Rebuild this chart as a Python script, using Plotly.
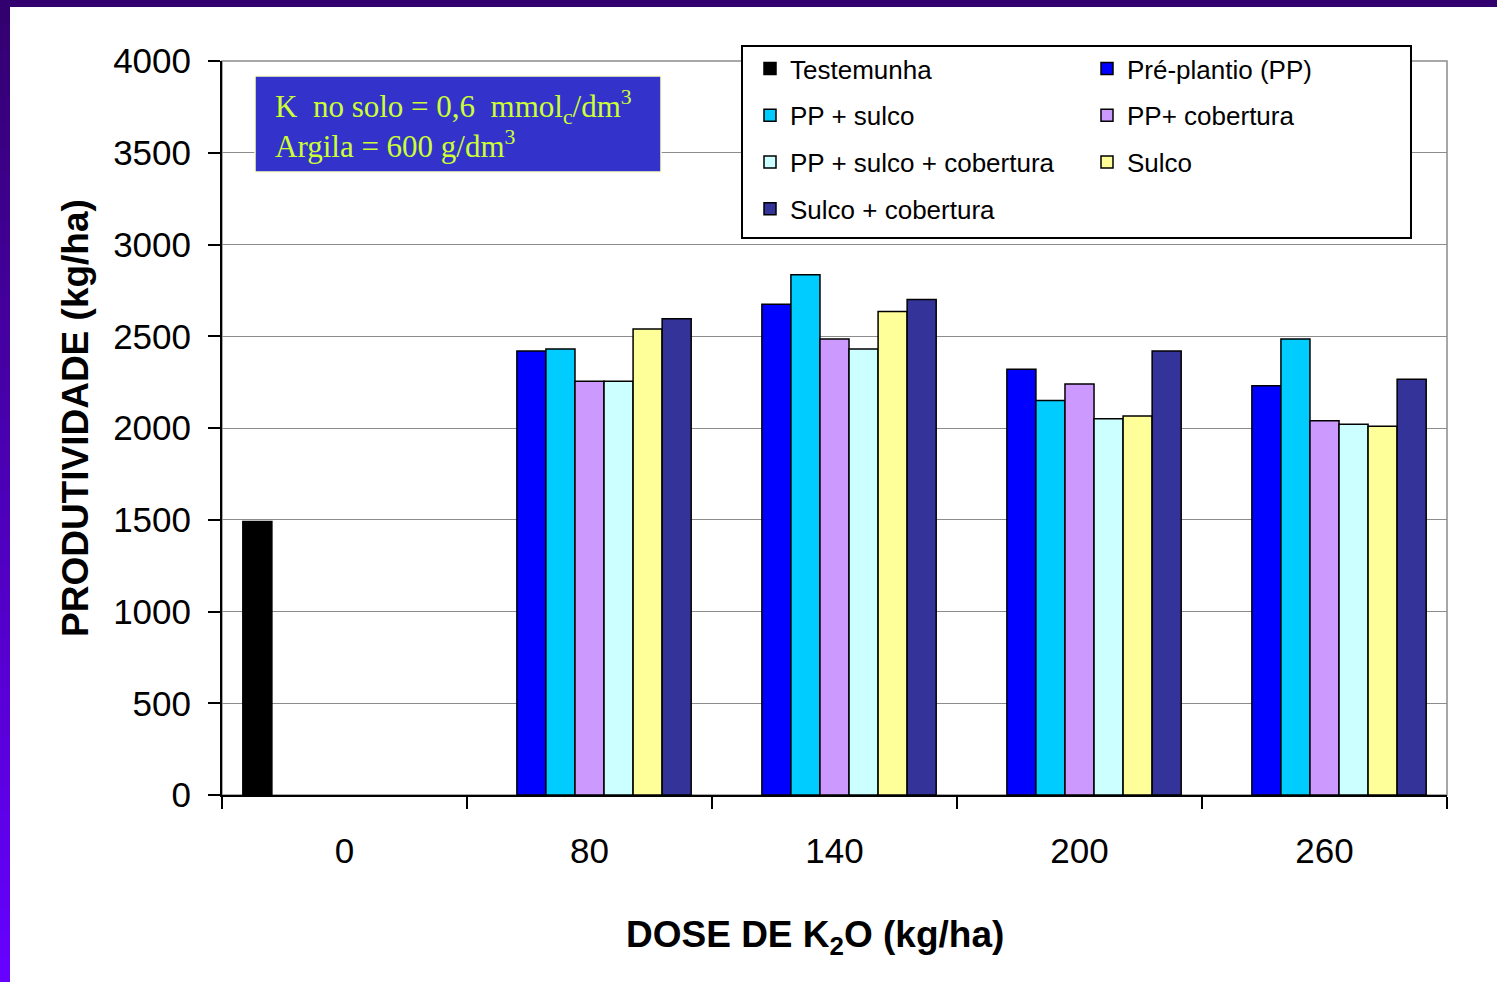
import plotly.graph_objects as go

# ---- data -------------------------------------------------------------
doses = ["0", "80", "140", "200", "260"]

testemunha = [1490, None, None, None, None]
pre_plantio = [None, 2420, 2675, 2320, 2230]
pp_sulco = [None, 2430, 2835, 2150, 2485]
pp_cobertura = [None, 2255, 2485, 2240, 2040]
pp_sulco_cobertura = [None, 2255, 2430, 2050, 2020]
sulco = [None, 2540, 2635, 2065, 2010]
sulco_cobertura = [None, 2595, 2700, 2420, 2265]

series_names = [
    "Testemunha", "Pré-plantio (PP)", "PP + sulco", "PP+ cobertura",
    "PP + sulco + cobertura", "Sulco", "Sulco + cobertura",
]
series_values = [
    testemunha, pre_plantio, pp_sulco, pp_cobertura,
    pp_sulco_cobertura, sulco, sulco_cobertura,
]
series_colors = ["#000000", "#0000FF", "#00CCFF", "#CC99FF",
                 "#CCFFFF", "#FFFF99", "#333399"]
# two legend columns
series_legend = ["legend", "legend2", "legend", "legend2",
                 "legend", "legend2", "legend"]

# ---- page geometry (pixels) --------------------------------------------
W, H = 1497, 982
L, R, T, B = 222, 50, 61, 187
PW, PH = W - L - R, H - T - B


def px(x):
    return (x - L) / PW


def py(y):
    return (H - B - y) / PH


FONT = "Arial, Liberation Sans, sans-serif"
SERIF = "Times New Roman, Liberation Serif, serif"

fig = go.Figure()
for i, (name, vals, col, lg) in enumerate(
        zip(series_names, series_values, series_colors, series_legend)):
    fig.add_trace(go.Bar(
        x=doses, y=vals, name=name, legend=lg, legendgroup=f"g{i}",
        marker=dict(color=col, line=dict(color="#000000", width=1.5)),
    ))

shapes = []
# plot frame (grey top / right edges)
shapes.append(dict(type="rect", xref="paper", yref="paper", x0=0, x1=1, y0=0, y1=1,
                   line=dict(color="#8c8c8c", width=1.5), layer="below"))
# purple page border: top band and shaded left band
shapes.append(dict(type="rect", xref="paper", yref="paper",
                   x0=px(0), x1=px(W), y0=py(7), y1=py(0),
                   fillcolor="#330070", line=dict(width=0), layer="above"))
n_bands = 40
c0, c1 = (0x33, 0x00, 0x70), (0x66, 0x00, 0xFF)
for k in range(n_bands):
    t = k / (n_bands - 1)
    c = tuple(round(a + (b - a) * t) for a, b in zip(c0, c1))
    y0 = H * k / n_bands
    y1 = H * (k + 1) / n_bands + 1
    shapes.append(dict(type="rect", xref="paper", yref="paper",
                       x0=px(0), x1=px(10), y0=py(y1), y1=py(y0),
                       fillcolor="rgb(%d,%d,%d)" % c, line=dict(width=0), layer="above"))
# info box
shapes.append(dict(type="rect", xref="paper", yref="paper",
                   x0=px(255), x1=px(661), y0=py(172), y1=py(76),
                   fillcolor="#3333CC", line=dict(color="#FFFFCC", width=1.5), layer="above"))
# legend frame
shapes.append(dict(type="rect", xref="paper", yref="paper",
                   x0=px(742), x1=px(1411), y0=py(238), y1=py(46),
                   fillcolor="#FFFFFF", line=dict(color="#000000", width=2), layer="above"))

annotations = [
    dict(xref="paper", yref="paper", x=px(273), y=py(124), xanchor="left", yanchor="middle",
         showarrow=False, align="left",
         text="K&nbsp; no solo = 0,6&nbsp; mmol<sub>c</sub>/dm<sup>3</sup><br>"
              "Argila = 600 g/dm<sup>3</sup>",
         font=dict(family=SERIF, size=31, color="#CCFF33")),
    # axis titles
    dict(xref="paper", yref="paper", x=px(815), y=py(937), xanchor="center", yanchor="middle",
         showarrow=False, text="<b>DOSE DE K<sub>2</sub>O (kg/ha)</b>",
         font=dict(family=FONT, size=37, color="#000000")),
    dict(xref="paper", yref="paper", x=px(75), y=py(418), xanchor="center", yanchor="middle",
         showarrow=False, textangle=-90, text="<b>PRODUTIVIDADE (kg/ha)</b>",
         font=dict(family=FONT, size=37, color="#000000")),
]

legend_common = dict(
    bgcolor="rgba(0,0,0,0)", borderwidth=0, orientation="v",
    font=dict(family=FONT, size=26, color="#000000"),
    tracegroupgap=10, xanchor="left", yanchor="top", traceorder="grouped",
)

fig.update_layout(
    width=W, height=H,
    margin=dict(l=L, r=R, t=T, b=B, pad=0),
    paper_bgcolor="#FFFFFF", plot_bgcolor="#FFFFFF",
    barmode="group", bargap=0.17, bargroupgap=0,
    showlegend=True,
    legend=dict(x=px(750), y=py(45), **legend_common),
    legend2=dict(x=px(1087), y=py(45), **legend_common),
    shapes=shapes, annotations=annotations,
    font=dict(family=FONT, color="#000000"),
    xaxis=dict(
        type="category", range=[-0.5, 4.5], tickson="boundaries",
        ticks="outside", ticklen=12, tickwidth=2, tickcolor="#000000",
        showline=True, linecolor="#000000", linewidth=2,
        showgrid=False, zeroline=False,
        tickfont=dict(family=FONT, size=35, color="#000000"),
        ticklabelstandoff=24,
    ),
    yaxis=dict(
        range=[0, 4000], tickvals=[0, 500, 1000, 1500, 2000, 2500, 3000, 3500, 4000],
        ticks="outside", ticklen=12, tickwidth=2, tickcolor="#000000",
        showline=True, linecolor="#000000", linewidth=2,
        showgrid=True, gridcolor="#8c8c8c", gridwidth=1, zeroline=False,
        tickfont=dict(family=FONT, size=35, color="#000000"),
        ticklabelstandoff=10,
    ),
)

fig.write_html("out.html")
